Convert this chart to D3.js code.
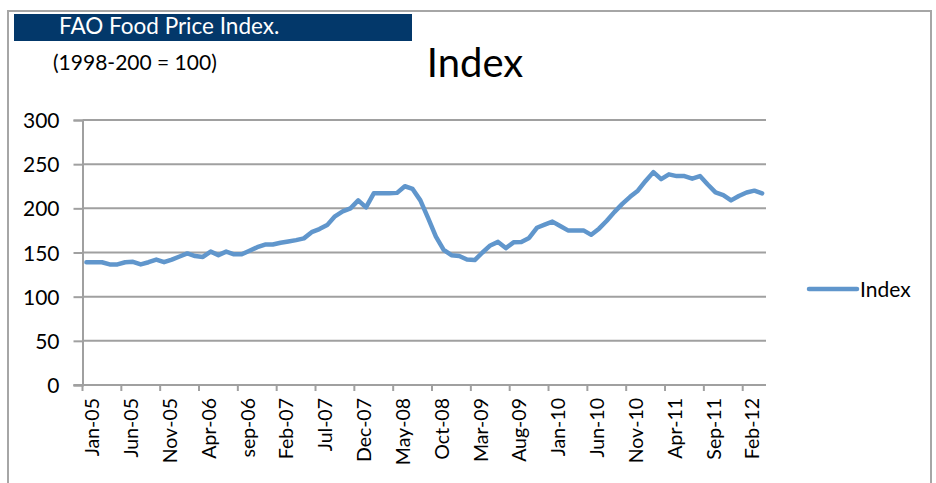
<!DOCTYPE html>
<html lang="en">
<head>
    <meta charset="UTF-8">
    <title>FAO Food Price Index</title>
    <style>
        body { margin: 0; background: #fff; }
        .chart text { font-family: Lato, "Open Sans", sans-serif; fill: #000; }
        .grid line { stroke: #a0a0a0; stroke-width: 2; }
    </style>
</head>
<body>

<svg class="chart"></svg>

<script src="https://cdn.jsdelivr.net/npm/d3@7/dist/d3.min.js"></script>

<script>

    // months Jan-05 .. Apr-12
    var months = [
        "Jan-05","Feb-05","Mar-05","Apr-05","May-05","Jun-05","Jul-05","Aug-05","Sep-05","Oct-05","Nov-05","Dec-05",
        "Jan-06","Feb-06","Mar-06","Apr-06","May-06","Jun-06","Jul-06","Aug-06","Sep-06","Oct-06","Nov-06","Dec-06",
        "Jan-07","Feb-07","Mar-07","Apr-07","May-07","Jun-07","Jul-07","Aug-07","Sep-07","Oct-07","Nov-07","Dec-07",
        "Jan-08","Feb-08","Mar-08","Apr-08","May-08","Jun-08","Jul-08","Aug-08","Sep-08","Oct-08","Nov-08","Dec-08",
        "Jan-09","Feb-09","Mar-09","Apr-09","May-09","Jun-09","Jul-09","Aug-09","Sep-09","Oct-09","Nov-09","Dec-09",
        "Jan-10","Feb-10","Mar-10","Apr-10","May-10","Jun-10","Jul-10","Aug-10","Sep-10","Oct-10","Nov-10","Dec-10",
        "Jan-11","Feb-11","Mar-11","Apr-11","May-11","Jun-11","Jul-11","Aug-11","Sep-11","Oct-11","Nov-11","Dec-11",
        "Jan-12","Feb-12","Mar-12","Apr-12"
    ];

    var index = [
        139, 139, 139, 136.5, 136.5, 139, 139.5, 136.5, 139, 142,
        139, 142, 145.5, 149, 146, 145, 151, 147, 151, 148,
        148, 152, 156, 159, 159, 161, 162.5, 164, 166, 173,
        176.5, 181, 191, 196.5, 200, 209, 201, 217, 217, 217,
        217.5, 225, 222, 209, 189, 168, 153, 147, 146, 142,
        141.5, 150, 158, 162, 155, 161.5, 162, 166.5, 178, 181.5,
        185, 180, 175, 175, 175, 170, 177, 186, 196, 205,
        213, 220, 231, 241, 233, 238.5, 236.5, 236.5, 233.5, 236.5,
        227, 218, 215, 209, 214, 218, 220, 217
    ];

    // every 5th month gets a label (as printed on the chart)
    var tickLabels = ["Jan-05","Jun-05","Nov-05","Apr-06","sep-06","Feb-07","Jul-07","Dec-07","May-08",
        "Oct-08","Mar-09","Aug-09","Jan-10","Jun-10","Nov-10","Apr-11","Sep-11","Feb-12"];
    var tickMonths = ["Jan-05","Jun-05","Nov-05","Apr-06","Sep-06","Feb-07","Jul-07","Dec-07","May-08",
        "Oct-08","Mar-09","Aug-09","Jan-10","Jun-10","Nov-10","Apr-11","Sep-11","Feb-12"];

    var yTicks = [0, 50, 100, 150, 200, 250, 300];

    var width = 936, height = 483;
    var plotLeft = 82.5, plotRight = 766, plotTop = 120, plotBottom = 385;
    var lineColor = "#6096cc";

    var svg = d3.select(".chart")
            .attr("width", width)
            .attr("height", height);

    // outer frame
    svg.append("rect")
            .attr("x", 8).attr("y", 11)
            .attr("width", 923).attr("height", 500)
            .attr("fill", "none")
            .attr("stroke", "#a6a6a6")
            .attr("stroke-width", 2);

    // title banner
    svg.append("rect")
            .attr("x", 14).attr("y", 14)
            .attr("width", 398).attr("height", 27)
            .attr("fill", "#03386a");
    svg.append("text")
            .attr("x", 59).attr("y", 34)
            .style("fill", "#fff")
            .style("font-size", "22.5px")
            .text("FAO Food Price Index.");

    svg.append("text")
            .attr("x", 53).attr("y", 70)
            .style("font-size", "21px")
            .text("(1998-200 = 100)");

    svg.append("text")
            .attr("x", 475).attr("y", 77)
            .attr("text-anchor", "middle")
            .style("font-size", "40px")
            .text("Index");

    var x = d3.scaleBand()
            .domain(months)
            .range([plotLeft, plotRight])
            .padding(0);

    var y = d3.scaleLinear()
            .domain([0, 300])
            .range([plotBottom, plotTop]);

    // horizontal gridlines
    svg.append("g")
            .attr("class", "grid")
            .selectAll("line")
            .data(yTicks.filter(function (d) { return d > 0; }))
            .enter()
            .append("line")
            .attr("x1", plotLeft).attr("x2", plotRight)
            .attr("y1", function (d) { return y(d); })
            .attr("y2", function (d) { return y(d); });

    // y axis
    var yAxis = svg.append("g")
            .attr("transform", "translate(" + plotLeft + ",0)")
            .call(d3.axisLeft(y).tickValues(yTicks).tickSize(9).tickPadding(14));
    yAxis.select(".domain").attr("stroke", "#a0a0a0").attr("stroke-width", 2);
    yAxis.selectAll(".tick line").attr("stroke", "#a0a0a0").attr("stroke-width", 2);
    yAxis.selectAll(".tick text")
            .style("font-family", "Lato, sans-serif")
            .style("font-size", "21px")
            .style("fill", "#000")
            .attr("dy", "0.36em");

    // x axis: ticks on category boundaries every 5 months
    var xg = svg.append("g");
    xg.append("line")
            .attr("x1", plotLeft - 9).attr("x2", plotRight)
            .attr("y1", plotBottom).attr("y2", plotBottom)
            .attr("stroke", "#a0a0a0").attr("stroke-width", 2);
    xg.selectAll(".xtick")
            .data(tickMonths)
            .enter()
            .append("line")
            .attr("class", "xtick")
            .attr("x1", function (d) { return x(d); })
            .attr("x2", function (d) { return x(d); })
            .attr("y1", plotBottom).attr("y2", plotBottom + 6)
            .attr("stroke", "#a0a0a0").attr("stroke-width", 2);
    xg.selectAll(".xlabel")
            .data(tickMonths)
            .enter()
            .append("text")
            .attr("class", "xlabel")
            .attr("transform", function (d) {
                return "translate(" + (x(d) + x.bandwidth() / 2 + 6) + "," + (plotBottom + 13) + ") rotate(-90)";
            })
            .attr("text-anchor", "end")
            .attr("dy", "0.35em")
            .style("font-size", "19.5px")
            .text(function (d, i) { return tickLabels[i]; });

    // the index line
    var line = d3.line()
            .x(function (d, i) { return x(months[i]) + x.bandwidth() / 2; })
            .y(function (d) { return y(d); });

    svg.append("path")
            .datum(index)
            .attr("d", line)
            .attr("fill", "none")
            .attr("stroke", lineColor)
            .attr("stroke-width", 4.5)
            .attr("stroke-linejoin", "round")
            .attr("stroke-linecap", "round");

    // legend
    svg.append("line")
            .attr("x1", 809).attr("x2", 857)
            .attr("y1", 289).attr("y2", 289)
            .attr("stroke", lineColor)
            .attr("stroke-width", 4.5)
            .attr("stroke-linecap", "round");
    svg.append("text")
            .attr("x", 860).attr("y", 297)
            .style("font-size", "21px")
            .text("Index");

</script>

</body>
</html>
